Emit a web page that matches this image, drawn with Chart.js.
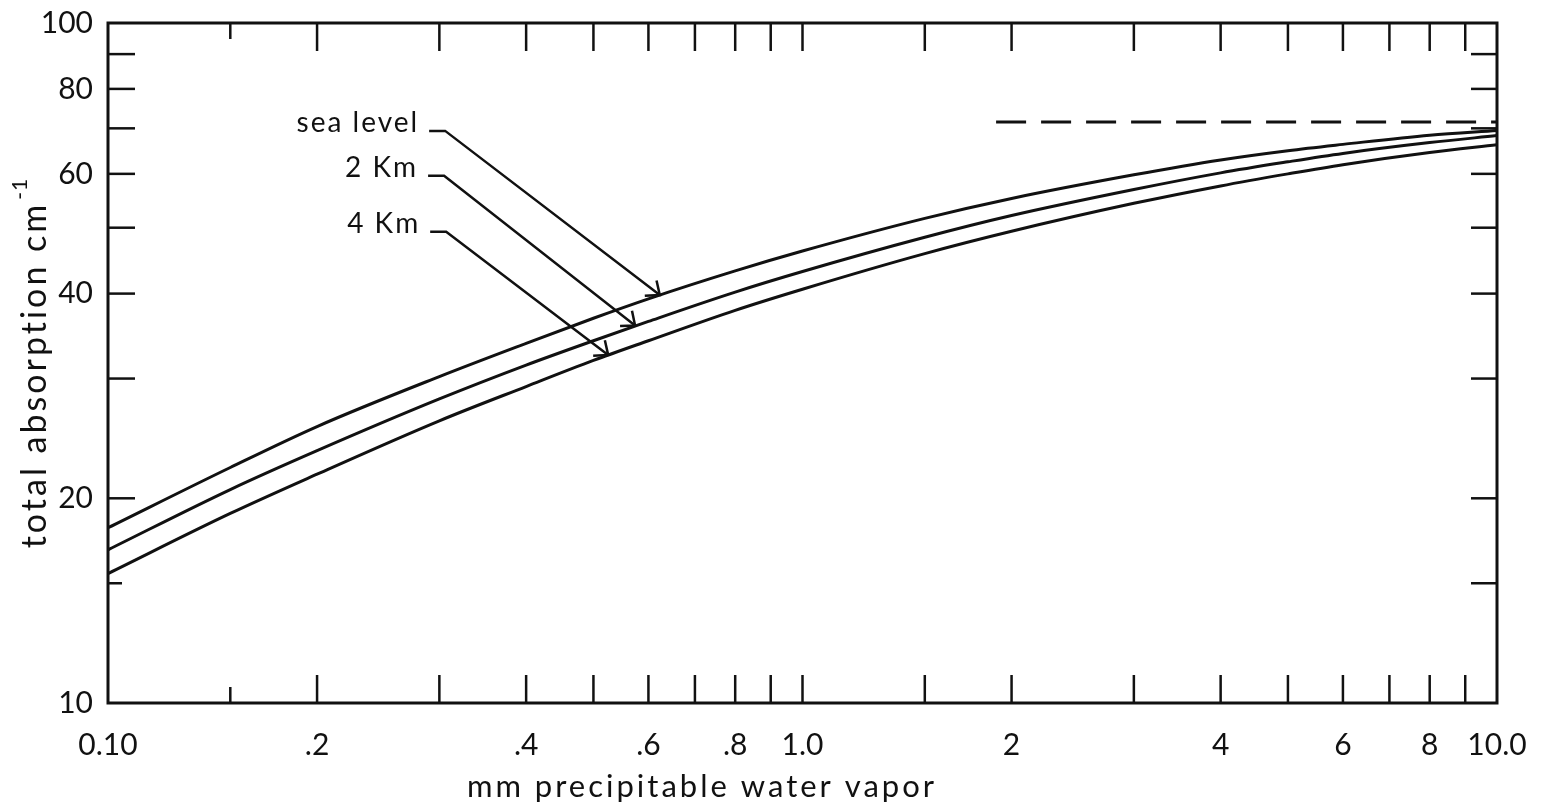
<!DOCTYPE html>
<html>
<head>
<meta charset="utf-8">
<script src="https://cdn.jsdelivr.net/npm/chart.js@4/dist/chart.umd.min.js"></script>
<style>
  html, body { margin: 0; padding: 0; background: #fff; }
  #wrap { width: 1551px; height: 810px; position: relative; }
</style>
</head>
<body>
<div id="wrap"><canvas id="absorptionChart"></canvas></div>
<script>
// mm precipitable water vapor
const waterVapor = [0.1, 0.15, 0.2, 0.3, 0.4, 0.5, 0.6, 0.8, 1.0, 1.5, 2, 3, 4, 5, 6, 8, 10];
// total absorption (cm-1) for each altitude
const seaLevel = [18.1, 22.2, 25.5, 30.2, 33.8, 36.8, 39.3, 43.2, 46.2, 51.6, 55.2, 59.8, 62.9, 64.9, 66.3, 68.4, 69.5];
const twoKm    = [16.8, 20.6, 23.5, 28.0, 31.4, 34.1, 36.4, 40.2, 43.1, 48.4, 52.1, 56.9, 60.2, 62.5, 64.3, 66.7, 68.3];
const fourKm   = [15.5, 19.0, 21.7, 26.0, 29.2, 31.9, 34.1, 37.8, 40.6, 45.8, 49.4, 54.3, 57.6, 60.0, 61.9, 64.5, 66.2];
// dashed limit line
const limitX = [1.9, 10];
const limitY = [71.5, 71.5];

// axis ticks and labels
const xLabelValues = [0.1, 0.2, 0.4, 0.6, 0.8, 1, 2, 4, 6, 8, 10];
const xTickLabels  = ['0.10', '.2', '.4', '.6', '.8', '1.0', '2', '4', '6', '8', '10.0'];
const xMarkValues  = [0.15, 0.2, 0.3, 0.4, 0.5, 0.6, 0.7, 0.8, 0.9, 1, 1.5, 2, 3, 4, 5, 6, 7, 8, 9];
const yLabelValues = [10, 20, 40, 60, 80, 100];
const yTickLabels  = ['10', '20', '40', '60', '80', '100'];
const yMarkValues  = [15, 20, 30, 40, 50, 60, 70, 80, 90];

// callout labels with leader arrows (data coordinates)
const calloutText = ['sea level', '2 Km', '4 Km'];
const calloutElbowX = [0.290, 0.289, 0.291];
const calloutElbowY = [69.4, 59.6, 49.3];
const calloutTipX = [0.623, 0.574, 0.525];
const calloutTipY = [39.8, 35.9, 32.5];

const ink = '#111';
const font = 'Lato, "Open Sans", "DejaVu Sans", sans-serif';

const toPoints = (xs, ys) => xs.map((v, i) => ({ x: v, y: ys[i] }));

const curveStyle = {
  borderColor: ink,
  borderWidth: 3,
  pointRadius: 0,
  fill: false,
  cubicInterpolationMode: 'monotone'
};

const decorations = {
  id: 'decorations',
  afterDatasetsDraw(chart) {
    const { ctx, chartArea: a, scales: { x, y } } = chart;
    const line = (x1, y1, x2, y2) => {
      ctx.beginPath(); ctx.moveTo(x1, y1); ctx.lineTo(x2, y2); ctx.stroke();
    };
    ctx.save();
    ctx.strokeStyle = ink;
    ctx.lineCap = 'butt';

    // frame
    ctx.lineWidth = 3;
    ctx.strokeRect(a.left, a.top, a.right - a.left, a.bottom - a.top);

    // inward tick marks on all four sides
    ctx.lineWidth = 2.5;
    xMarkValues.forEach(v => {
      const px = x.getPixelForValue(v);
      const len = v === 0.15 ? 16 : 28;
      line(px, a.bottom, px, a.bottom - len);
      line(px, a.top, px, a.top + len);
    });
    yMarkValues.forEach(v => {
      const py = y.getPixelForValue(v);
      line(a.left, py, a.left + (v === 15 ? 14 : 27), py);
      line(a.right, py, a.right - 26, py);
    });

    // callouts
    ctx.fillStyle = ink;
    ctx.font = '28px ' + font;
    ctx.letterSpacing = '2px';
    ctx.textAlign = 'right';
    ctx.textBaseline = 'middle';
    ctx.lineWidth = 2.5;
    calloutText.forEach((t, i) => {
      const ex = x.getPixelForValue(calloutElbowX[i]);
      const ey = y.getPixelForValue(calloutElbowY[i]);
      const tx = x.getPixelForValue(calloutTipX[i]);
      const ty = y.getPixelForValue(calloutTipY[i]);
      ctx.fillText(t, ex - 10, ey - 8);
      ctx.beginPath();
      ctx.moveTo(ex, ey);
      ctx.lineTo(ex + 16, ey);
      ctx.lineTo(tx, ty);
      ctx.stroke();
      const ang = Math.atan2(ty - ey, tx - (ex + 16));
      const barb = 15;
      ctx.beginPath();
      ctx.moveTo(tx + barb * Math.cos(ang + Math.PI - 0.7), ty + barb * Math.sin(ang + Math.PI - 0.7));
      ctx.lineTo(tx, ty);
      ctx.lineTo(tx + barb * Math.cos(ang + Math.PI + 0.7), ty + barb * Math.sin(ang + Math.PI + 0.7));
      ctx.stroke();
    });

    // axis titles
    ctx.font = '31px ' + font;
    ctx.letterSpacing = '3px';
    ctx.textAlign = 'center';
    ctx.fillText('mm precipitable water vapor', a.left + 594, a.bottom + 84);

    ctx.save();
    ctx.translate(a.left - 73, a.top + 340);
    ctx.rotate(-Math.PI / 2);
    ctx.font = '34px ' + font;
    ctx.textAlign = 'left';
    const main = 'total absorption cm';
    const w = ctx.measureText(main).width;
    const start = -(w + 24) / 2;
    ctx.fillText(main, start, 0);
    ctx.font = '21px ' + font;
    ctx.letterSpacing = '1px';
    ctx.fillText('-1', start + w + 2, -15);
    ctx.restore();

    ctx.restore();
  }
};

new Chart(document.getElementById('absorptionChart'), {
  type: 'line',
  data: {
    datasets: [
      { label: 'sea level', data: toPoints(waterVapor, seaLevel), ...curveStyle },
      { label: '2 Km', data: toPoints(waterVapor, twoKm), ...curveStyle },
      { label: '4 Km', data: toPoints(waterVapor, fourKm), ...curveStyle },
      { label: 'limit', data: toPoints(limitX, limitY), ...curveStyle, borderDash: [30, 15] }
    ]
  },
  options: {
    responsive: true,
    maintainAspectRatio: false,
    animation: false,
    layout: { padding: { top: 23, right: 54, left: 0, bottom: 0 } },
    plugins: { legend: { display: false }, tooltip: { enabled: false } },
    scales: {
      x: {
        type: 'logarithmic',
        min: 0.1,
        max: 10,
        grid: { display: false, drawTicks: false },
        border: { display: false },
        afterBuildTicks: s => { s.ticks = xLabelValues.map(v => ({ value: v })); },
        afterFit: s => { s.height = 107; s.paddingLeft = 0; s.paddingRight = 0; },
        ticks: {
          autoSkip: false,
          maxRotation: 0,
          padding: 24,
          color: ink,
          font: { family: font, size: 30 },
          callback: v => xTickLabels[xLabelValues.indexOf(v)]
        }
      },
      y: {
        type: 'logarithmic',
        min: 10,
        max: 100,
        grid: { display: false, drawTicks: false },
        border: { display: false },
        afterBuildTicks: s => { s.ticks = yLabelValues.map(v => ({ value: v })); },
        afterFit: s => { s.width = 108; s.paddingTop = 0; s.paddingBottom = 0; },
        ticks: {
          autoSkip: false,
          padding: 15,
          color: ink,
          font: { family: font, size: 30 },
          callback: v => yTickLabels[yLabelValues.indexOf(v)]
        }
      }
    }
  },
  plugins: [decorations]
});
</script>
</body>
</html>
